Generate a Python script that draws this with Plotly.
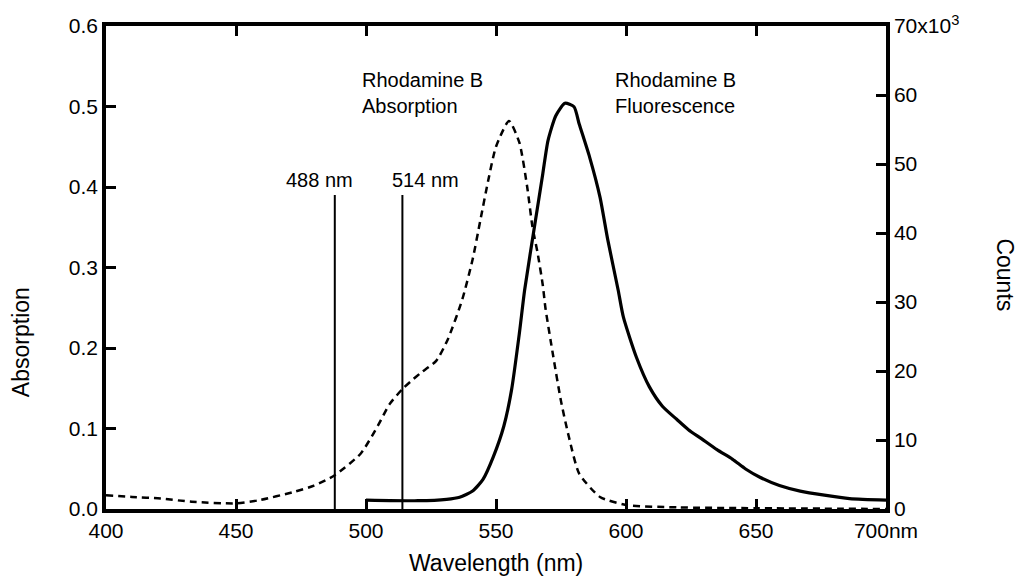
import plotly.graph_objects as go

# Absorption spectrum (left axis)
abs_nm = [400, 410, 421, 433, 450, 459, 472, 480, 488, 498, 505, 509, 514, 517, 521, 527,
          531.5, 537, 541, 544, 547, 550, 555, 559, 562, 564, 566, 568, 569, 572, 575, 578,
          582, 590, 600, 620, 650, 700]
abs_val = [0.017, 0.015, 0.013, 0.009, 0.007, 0.011, 0.021, 0.029, 0.042, 0.069, 0.106, 0.13,
           0.149, 0.158, 0.169, 0.184, 0.211, 0.26, 0.31, 0.359, 0.408, 0.45, 0.482, 0.455,
           0.40, 0.351, 0.318, 0.278, 0.25, 0.19, 0.134, 0.09, 0.044, 0.015, 0.005, 0.002,
           0.001, 0.0]

# Fluorescence spectrum (right axis, counts x10^3)
fl_nm = [500, 520, 531, 536, 541, 545, 549, 553, 556, 559, 561, 565, 568, 570, 573, 576.5,
         580, 582, 586, 590, 593, 597, 599, 604, 609, 614, 619.5, 624, 629, 635, 641, 646,
         651.5, 659, 667, 686, 700]
fl_counts = [1.3, 1.2, 1.4, 1.7, 2.6, 4.3, 7.6, 12, 17.3, 25.5, 31.7, 41.4, 48.6, 53.4, 57,
             58.8, 58.3, 55.8, 51, 45.2, 39, 31.7, 27.8, 22, 17.7, 14.9, 13.0, 11.5, 10.2, 8.6,
             7.2, 5.8, 4.6, 3.4, 2.6, 1.5, 1.3]

# Laser lines
laser_nm = [488, 514]
laser_top = [0.39, 0.39]
laser_labels = ["488 nm", "514 nm"]

x_ticks = [400, 450, 500, 550, 600, 650, 700]
x_ticktext = ["400", "450", "500", "550", "600", "650", "700nm"]
y_ticks = [0.0, 0.1, 0.2, 0.3, 0.4, 0.5, 0.6]
y_ticktext = ["0.0", "0.1", "0.2", "0.3", "0.4", "0.5", "0.6"]
y2_ticks = [0, 10, 20, 30, 40, 50, 60, 70]
y2_ticktext = ["0", "10", "20", "30", "40", "50", "60", "70x10<sup>3</sup>"]

FONT = "Liberation Sans, Arial, sans-serif"

fig = go.Figure()
fig.add_trace(go.Scatter(x=abs_nm, y=abs_val, mode="lines", line=dict(color="black", width=2.5, dash="7px,5px", shape="spline", smoothing=0.6), showlegend=False))
fig.add_trace(go.Scatter(x=fl_nm, y=fl_counts, mode="lines", yaxis="y2", line=dict(color="black", width=3.2, shape="spline", smoothing=0.6), showlegend=False))
for nm, top in zip(laser_nm, laser_top):
    fig.add_trace(go.Scatter(x=[nm, nm], y=[0, top], mode="lines", line=dict(color="black", width=2), showlegend=False))

axis_common = dict(showgrid=False, zeroline=False, showline=True, linecolor="black", linewidth=3.5,
                   ticks="inside", ticklen=10, tickwidth=2.5, tickcolor="black",
                   tickfont=dict(family=FONT, size=21, color="black"))

fig.update_layout(
    width=1024, height=586,
    margin=dict(l=106, r=138, t=24, b=77),
    paper_bgcolor="white", plot_bgcolor="white",
    xaxis=dict(range=[400, 700], tickvals=x_ticks, ticktext=x_ticktext, mirror="ticks", **axis_common),
    yaxis=dict(range=[0, 0.6], tickvals=y_ticks, ticktext=y_ticktext, **axis_common),
    yaxis2=dict(range=[0, 70], tickvals=y2_ticks, ticktext=y2_ticktext, overlaying="y", side="right", **axis_common),
)

ann_font = dict(family=FONT, size=20, color="black")
title_font = dict(family=FONT, size=23, color="black")
annotations = [
    dict(x=0.5, y=-0.08, xref="paper", yref="paper", text="Wavelength (nm)", showarrow=False,
         font=title_font, xanchor="center", yanchor="top"),
    dict(x=-0.108, y=0.345, xref="paper", yref="paper", text="Absorption", showarrow=False, textangle=-90,
         font=title_font, xanchor="center", yanchor="middle"),
    dict(x=1.153, y=0.485, xref="paper", yref="paper", text="Counts", showarrow=False, textangle=90,
         font=title_font, xanchor="center", yanchor="middle"),
    dict(x=497.5, y=0.517, xref="x", yref="y", text="Rhodamine B<br>Absorption", showarrow=False, align="left",
         font=ann_font, xanchor="left", yanchor="middle"),
    dict(x=595, y=0.517, xref="x", yref="y", text="Rhodamine B<br>Fluorescence", showarrow=False, align="left",
         font=ann_font, xanchor="left", yanchor="middle"),
]
label_offsets = [-6, 9]
for nm, top, lab, off in zip(laser_nm, laser_top, laser_labels, label_offsets):
    annotations.append(dict(x=nm + off, y=top, xref="x", yref="y", text=lab, showarrow=False,
                            font=ann_font, xanchor="center", yanchor="bottom", yshift=2))
fig.update_layout(annotations=annotations)

fig.write_html("out.html")
